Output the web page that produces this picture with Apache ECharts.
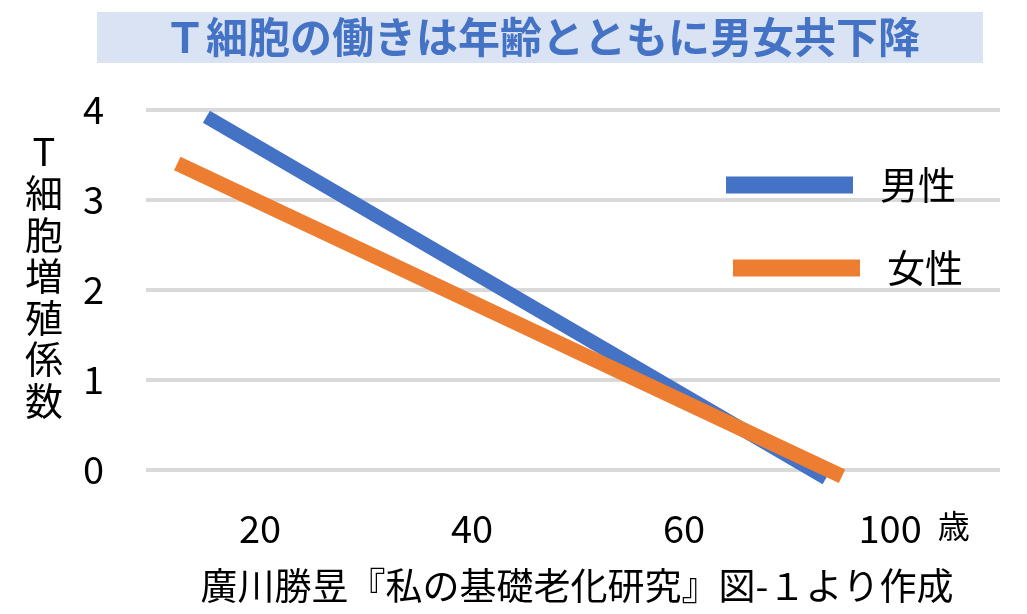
<!DOCTYPE html>
<html>
<head>
<meta charset="utf-8">
<script src="https://cdn.jsdelivr.net/npm/echarts@6/dist/echarts.min.js"></script>
<style>
html,body{margin:0;padding:0;background:#fff;}
#c{width:1027px;height:614px;}
</style>
</head>
<body>
<div id="c"></div>
<script>
// ---- data ----
const titleText = 'Ｔ細胞の働きは年齢とともに男女共下降';
const yAxisName = 'T細胞増殖係数';
const xAxisName = '廣川勝昱『私の基礎老化研究』図-１より作成';
const xTickValues = [20, 40, 60, 80];          // axis positions of tick labels
const xTickLabels = ['20', '40', '60', '100歳']; // labels shown (axis has a visual break)
const seriesNames = ['男性', '女性'];
const maleData = [[14.95, 3.92], [73.4, -0.09]];
const femaleData = [[12.2, 3.40], [74.9, -0.07]];

const FONT = '"Noto Sans CJK JP", "Noto Sans", sans-serif';
const chart = echarts.init(document.getElementById('c'), null, {renderer: 'canvas'});

const option = {
  backgroundColor: '#ffffff',
  animation: false,
  textStyle: {fontFamily: FONT},
  title: {
    text: titleText,
    left: 97,
    top: 12,
    padding: [2, 63, 2, 67],
    backgroundColor: '#dae3f3',
    textStyle: {
      fontFamily: FONT,
      fontSize: 42,
      fontWeight: 'bold',
      color: '#4472c4',
      lineHeight: 47
    }
  },
  legend: [
    {
      data: [seriesNames[0]],
      left: 726, top: 165, padding: 0,
      icon: 'rect', itemWidth: 127, itemHeight: 17,
      textStyle: {fontFamily: FONT, fontSize: 38, lineHeight: 40, color: '#000', padding: [0, 0, 0, 22]}
    },
    {
      data: [seriesNames[1]],
      left: 733, top: 248, padding: 0,
      icon: 'rect', itemWidth: 127, itemHeight: 17,
      textStyle: {fontFamily: FONT, fontSize: 38, lineHeight: 40, color: '#000', padding: [0, 0, 0, 22]}
    }
  ],
  grid: {left: 146, right: 27, top: 109.5, bottom: 144, containLabel: false},
  xAxis: {
    type: 'value',
    min: 9.25,
    max: 89.8,
    name: xAxisName,
    nameLocation: 'middle',
    nameGap: 97,
    nameTextStyle: {fontFamily: FONT, fontSize: 37, color: '#000', align: 'center', padding: [0, 0, 0, 8]},
    axisLine: {show: false},
    axisTick: {show: false},
    splitLine: {show: false},
    axisLabel: {
      customValues: xTickValues,
      margin: 40,
      fontFamily: FONT,
      fontSize: 38,
      color: '#000',
      formatter: function (v) {
        const i = xTickValues.indexOf(v);
        if (i < 0) return '';
        const s = xTickLabels[i];
        if (s.endsWith('歳')) return '{m|' + s.slice(0, -1) + '}{u|歳}';
        return s;
      },
      rich: {
        m: {fontFamily: FONT, fontSize: 38, color: '#000', padding: [0, 0, 0, 36]},
        u: {fontFamily: FONT, fontSize: 32, color: '#000', padding: [0, 0, 6, 16]}
      }
    }
  },
  yAxis: {
    type: 'value',
    min: 0,
    max: 4,
    interval: 1,
    name: yAxisName.split('').map(function (c) { return '{a|' + c + '}'; }).join('\n') + '\n{b| }',
    nameLocation: 'middle',
    nameRotate: 0,
    nameGap: 102,
    nameTextStyle: {
      fontFamily: FONT, fontSize: 38, color: '#000', align: 'center',
      rich: {
        a: {fontFamily: FONT, fontSize: 38, lineHeight: 41.5, color: '#000'},
        b: {fontFamily: FONT, fontSize: 10, lineHeight: 28, color: '#000'}
      }
    },
    axisLine: {show: false},
    axisTick: {show: false},
    axisLabel: {margin: 42, fontFamily: FONT, fontSize: 38, color: '#000'},
    splitLine: {lineStyle: {color: '#d9d9d9', width: 4}}
  },
  series: [
    {
      name: seriesNames[0], type: 'line', data: maleData,
      symbol: 'none', clip: false, color: '#4472c4',
      lineStyle: {width: 14, color: '#4472c4', cap: 'butt'}
    },
    {
      name: seriesNames[1], type: 'line', data: femaleData,
      symbol: 'none', clip: false, color: '#ed7d31',
      lineStyle: {width: 15, color: '#ed7d31', cap: 'butt'}
    }
  ]
};
chart.setOption(option);
</script>
</body>
</html>
